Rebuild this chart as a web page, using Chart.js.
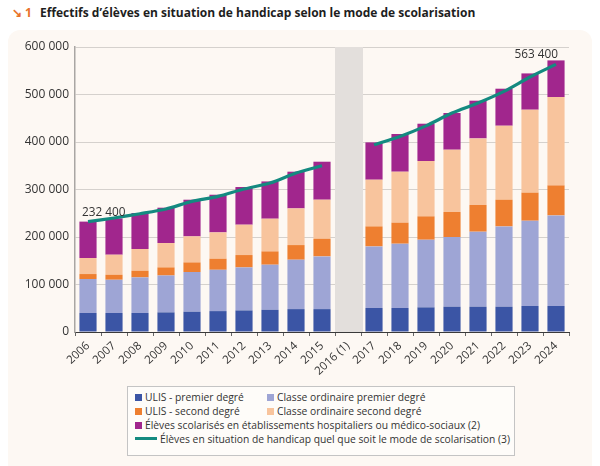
<!DOCTYPE html>
<html lang="fr">
<head>
<meta charset="utf-8">
<script src="https://cdn.jsdelivr.net/npm/chart.js@4"></script>
<style>
  html, body { margin:0; padding:0; background:#ffffff; width:600px; height:466px; overflow:hidden; font-family:"Open Sans", sans-serif; }
  #bg { position:absolute; left:8px; top:30px; width:584px; height:446px; background:#fdf8f3; border-radius:12px; }
  #title { position:absolute; left:12px; top:4px; font-size:12px; font-weight:bold; color:#1e1e1e; white-space:nowrap; }
  #title .num { color:#e8732a; font-weight:bold; margin-right:8px; }
  #wrap { position:absolute; left:0; top:0; width:600px; height:385px; }
  #legend { position:absolute; left:127px; top:386px; width:386px; height:68px; border:1px solid #c4c4c4; background:#fefcf9; font-size:10.3px; color:#333; }
  .item { position:absolute; white-space:nowrap; line-height:13px; }
  .sw { display:inline-block; width:7px; height:7px; margin-right:3px; vertical-align:0px; }
  .ln { display:inline-block; width:22px; height:3px; margin-right:3px; vertical-align:3px; background:#148a80; }
</style>
</head>
<body>
<div id="bg"></div>
<div id="title"><span class="num">&#8600; 1</span>Effectifs d’élèves en situation de handicap selon le mode de scolarisation</div>
<div id="wrap"><canvas id="c" width="600" height="385"></canvas></div>
<div id="legend"></div>
<script>
const years = ['2006','2007','2008','2009','2010','2011','2012','2013','2014','2015','2016 (1)','2017','2018','2019','2020','2021','2022','2023','2024'];
const ulisPremier = [40000,40000,40000,41300,42700,44000,45400,46800,48200,48200,null,50500,50500,51800,53200,53200,53200,54700,54700];
const classePremier = [71600,70000,75000,77700,83600,87000,90600,94900,104000,111000,null,129700,135400,142500,146800,158000,169100,179600,190800];
const ulisSecond = [10400,10600,14000,17000,20200,23300,26000,28000,30800,37200,null,42100,44200,49100,52600,56200,56200,59000,63100];
const classeSecond = [33800,42100,45700,51300,54800,55400,63900,68800,77200,82100,null,98300,107400,116600,131200,140200,155800,174700,186100];
const etablissements = [76600,76500,75800,74400,77200,79300,79300,78500,77300,80000,null,78600,79300,78500,77200,79400,77900,76400,77100];
const totalHandicap = [232400,240000,249000,259000,275000,285500,301000,313700,334700,350000,null,394000,411800,434000,461000,482000,506500,536800,563400];
const yTicks = [0,100000,200000,300000,400000,500000,600000];
const gapLabel = '2016 (1)';

const names = {
  ulisPremier: 'ULIS - premier degré',
  classePremier: 'Classe ordinaire premier degré',
  ulisSecond: 'ULIS - second degré',
  classeSecond: 'Classe ordinaire second degré',
  etab: 'Élèves scolarisés en établissements hospitaliers ou médico-sociaux (2)',
  total: 'Élèves en situation de handicap quel que soit le mode de scolarisation (3)'
};
const colors = {
  ulisPremier:'#3b55a5', classePremier:'#9ea5d5', ulisSecond:'#ee7f30', classeSecond:'#f8c49d', etab:'#a1268d', total:'#148a80'
};

function fmt(v){ return String(v).replace(/\B(?=(\d{3})+(?!\d))/g, ' '); }

const bandPlugin = {
  id:'band',
  beforeDatasetsDraw(chart){
    const xs = chart.scales.x, ca = chart.chartArea, ctx = chart.ctx;
    const i = years.indexOf(gapLabel);
    const half = (xs.getPixelForValue(1) - xs.getPixelForValue(0)) / 2;
    const cx = xs.getPixelForValue(i);
    ctx.save();
    ctx.fillStyle = '#e3dfdc';
    ctx.fillRect(cx - half, ca.top, half*2 + 2, ca.bottom - ca.top);
    ctx.restore();
  }
};
const labelPlugin = {
  id:'endLabels',
  afterDatasetsDraw(chart){
    const ctx = chart.ctx, xs = chart.scales.x, ys = chart.scales.y;
    const first = 0, last = totalHandicap.length - 1;
    ctx.save();
    ctx.font = '11.8px "Open Sans", sans-serif';
    ctx.fillStyle = '#333';
    ctx.textBaseline = 'alphabetic';
    ctx.textAlign = 'left';
    ctx.fillText(fmt(totalHandicap[first]), xs.getPixelForValue(first) - 6, ys.getPixelForValue(totalHandicap[first]) - 6);
    ctx.textAlign = 'right';
    ctx.fillText(fmt(totalHandicap[last]), xs.getPixelForValue(last) + 2, ys.getPixelForValue(totalHandicap[last]) - 6);
    ctx.restore();
  }
};

function barDs(label, data, color){
  return { type:'bar', label, data, backgroundColor:color, stack:'bars', order:1, barPercentage:0.66, categoryPercentage:1, borderWidth:0 };
}

new Chart(document.getElementById('c'), {
  data: {
    labels: years,
    datasets: [
      barDs(names.ulisPremier, ulisPremier, colors.ulisPremier),
      barDs(names.classePremier, classePremier, colors.classePremier),
      barDs(names.ulisSecond, ulisSecond, colors.ulisSecond),
      barDs(names.classeSecond, classeSecond, colors.classeSecond),
      barDs(names.etab, etablissements, colors.etab),
      { type:'line', label:names.total, data:totalHandicap, stack:'total', order:0, borderColor:colors.total, borderWidth:3.2, pointRadius:0, tension:0.25, spanGaps:false, fill:false }
    ]
  },
  options: {
    responsive:false,
    animation:false,
    devicePixelRatio:1,
    layout:{ padding:{ left:0, top:47, right:31, bottom:0 } },
    plugins:{ legend:{display:false}, tooltip:{enabled:false} },
    scales:{
      x:{
        stacked:true,
        offset:true,
        grid:{ display:true, drawOnChartArea:false, drawTicks:true, tickLength:4, color:'#666', offset:true },
        border:{ display:true, color:'#3a3a3a', width:1 },
        ticks:{ autoSkip:false, maxRotation:43, minRotation:43, padding:3, color:'#333', font:{ family:'"Open Sans", sans-serif', size:11.5 } },
        afterFit(s){ s.height = 53; }
      },
      y:{
        stacked:true,
        min:0, max:600000,
        afterBuildTicks(s){ s.ticks = yTicks.map(v => ({value:v})); },
        grid:{ color:'#d5d1cd', drawTicks:false, lineWidth:1 },
        border:{ display:true, color:'#a9a6a3', width:1.5 },
        ticks:{ padding:6, color:'#333', font:{ family:'"Open Sans", sans-serif', size:12 }, callback:(v)=>fmt(v) },
        afterFit(s){ s.width = 75; }
      }
    }
  },
  plugins:[bandPlugin, labelPlugin]
});

const legend = document.getElementById('legend');
const items = [
  {k:'ulisPremier', x:7, y:4}, {k:'classePremier', x:139, y:4},
  {k:'ulisSecond', x:7, y:18}, {k:'classeSecond', x:139, y:18},
  {k:'etab', x:7, y:32}, {k:'total', x:7, y:46, line:true}
];
items.forEach(it => {
  const d = document.createElement('div');
  d.className = 'item';
  d.style.left = it.x + 'px'; d.style.top = it.y + 'px';
  const s = document.createElement('span');
  s.className = it.line ? 'ln' : 'sw';
  s.style.background = colors[it.k];
  d.appendChild(s);
  d.appendChild(document.createTextNode(names[it.k]));
  legend.appendChild(d);
});
</script>
</body>
</html>
